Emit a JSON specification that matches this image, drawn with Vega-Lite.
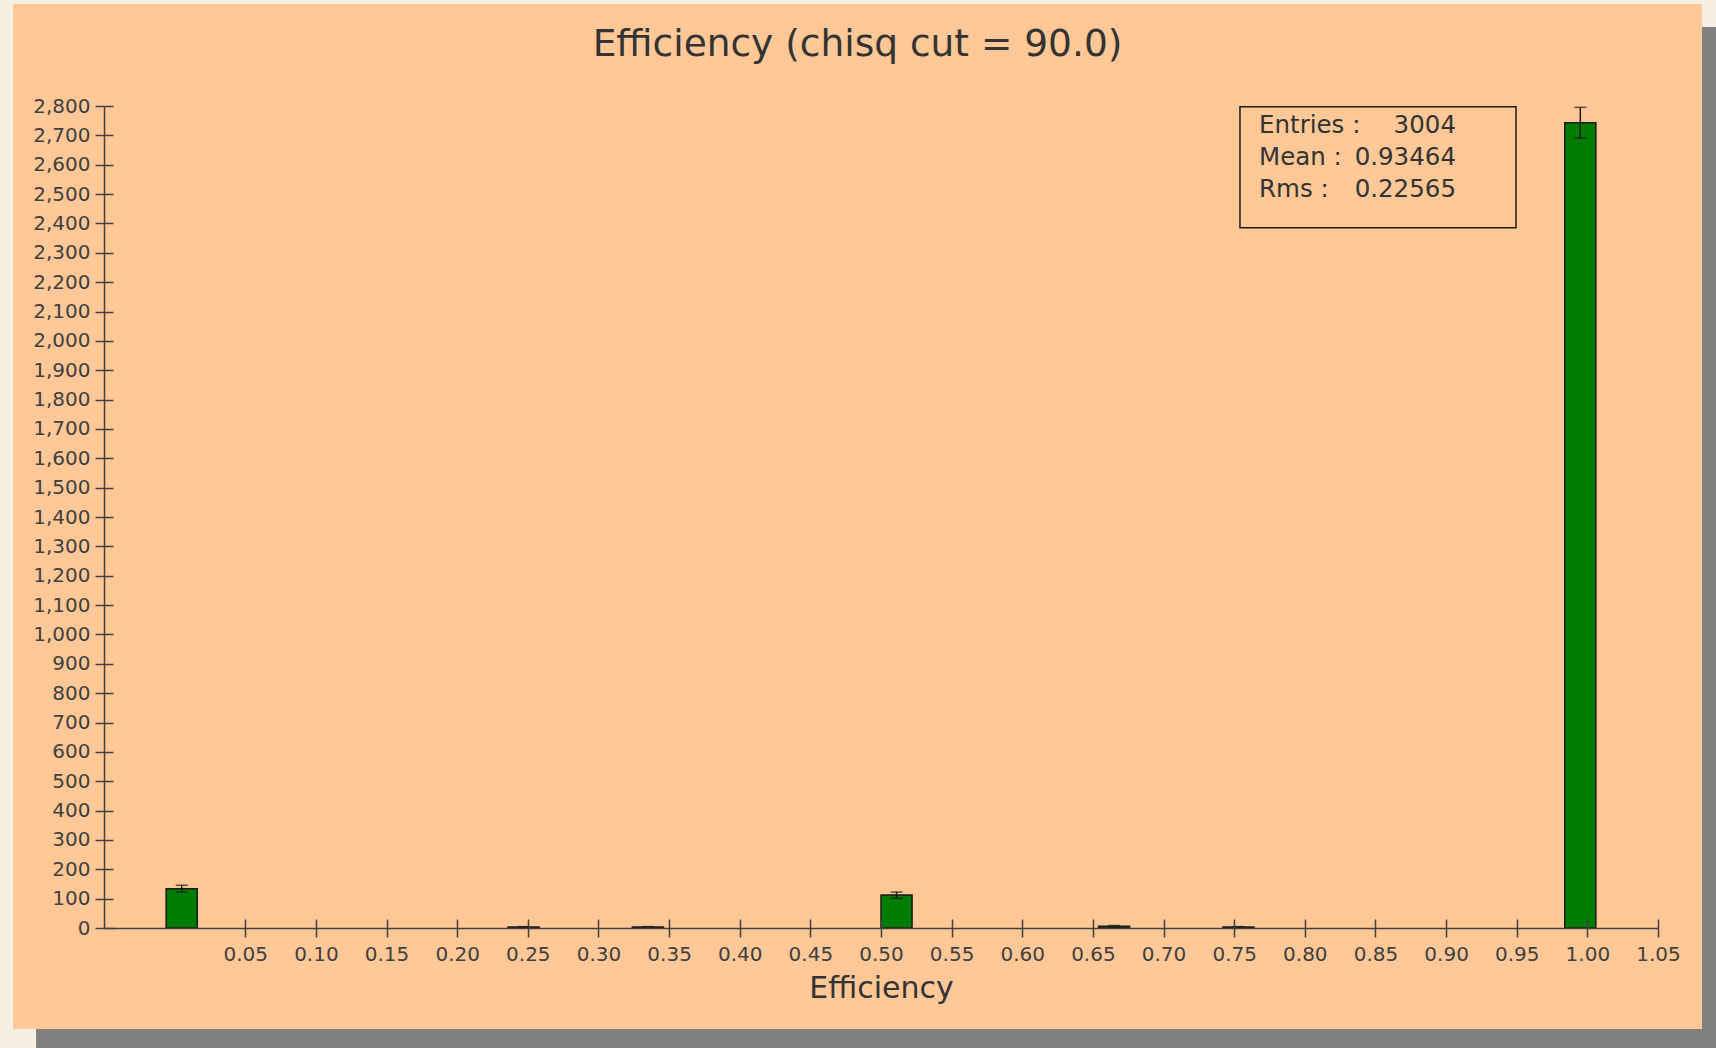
{
  "$schema": "https://vega.github.io/schema/vega-lite/v6.json",
  "width": 1554,
  "height": 822,
  "autosize": "none",
  "padding": {"left": 104, "top": 106, "right": 58, "bottom": 120},
  "background": "#F5F0E1",
  "config": {"view": {"stroke": null}, "font": "DejaVu Sans"},
  "title": {"text": "Efficiency (chisq cut = 90.0)", "fontSize": 37.5, "fontWeight": "normal", "color": "#333333", "anchor": "middle", "dx": -23.5, "offset": 39, "dy": 128, "baseline": "alphabetic", "font": "DejaVu Sans", "zindex": 2},
  "datasets": {
    "bins": [
      {"x0": -0.006, "x1": 0.016, "xc": 0.005, "count": 134, "lo": 122.4, "hi": 145.6},
      {"x0": 0.236, "x1": 0.258, "xc": 0.247, "count": 3, "lo": 1.27, "hi": 4.73},
      {"x0": 0.324, "x1": 0.346, "xc": 0.335, "count": 3, "lo": 1.27, "hi": 4.73},
      {"x0": 0.5, "x1": 0.522, "xc": 0.511, "count": 112, "lo": 101.4, "hi": 122.6},
      {"x0": 0.654, "x1": 0.676, "xc": 0.665, "count": 6, "lo": 3.55, "hi": 8.45},
      {"x0": 0.742, "x1": 0.764, "xc": 0.753, "count": 3, "lo": 1.27, "hi": 4.73},
      {"x0": 0.984, "x1": 1.006, "xc": 0.995, "count": 2743, "lo": 2690.6, "hi": 2795.4}
    ],
    "stats": [
      {"labels": ["Entries :", "Mean :", "Rms :"], "values": ["3004", "0.93464", "0.22565"]}
    ]
  },
  "layer": [
    {
      "data": {"name": "stats"},
      "mark": {"type": "rect", "fill": "#808080", "clip": false},
      "encoding": {
        "x": {"datum": 1.0811, "type": "quantitative", "axis": null},
        "x2": {"datum": 1.1},
        "y": {"datum": 3069, "type": "quantitative", "axis": null},
        "y2": {"datum": -450}
      }
    },
    {
      "data": {"name": "stats"},
      "mark": {"type": "rect", "fill": "#808080", "clip": false},
      "encoding": {
        "x": {"datum": -0.0981, "type": "quantitative", "axis": null},
        "x2": {"datum": 1.1},
        "y": {"datum": -344, "type": "quantitative", "axis": null},
        "y2": {"datum": -450}
      }
    },
    {
      "data": {"name": "stats"},
      "mark": {"type": "rect", "fill": "#FFC896", "clip": false},
      "encoding": {
        "x": {"datum": -0.1144, "type": "quantitative", "axis": null},
        "x2": {"datum": 1.0811},
        "y": {"datum": 3147.4, "type": "quantitative", "axis": null},
        "y2": {"datum": -344}
      }
    },
    {
      "data": {"name": "bins"},
      "mark": {"type": "bar", "fill": "#007C00", "stroke": "#1a1a1a", "strokeWidth": 1.5},
      "encoding": {
        "x": {"field": "x0", "type": "quantitative",
          "scale": {"domain": [-0.05, 1.05], "nice": false, "zero": false, "padding": 0},
          "axis": {"orient": "bottom", "zindex": 1, "values": [0.05, 0.1, 0.15, 0.2, 0.25, 0.3, 0.35, 0.4, 0.45, 0.5, 0.55, 0.6, 0.65, 0.7, 0.75, 0.8, 0.85, 0.9, 0.95, 1.0, 1.05],
            "format": ".2f", "grid": false, "domain": true, "domainColor": "#404040", "domainWidth": 1.5,
            "tickColor": "#404040", "tickWidth": 1.5, "tickSize": 9,
            "labelFontSize": 20, "labelColor": "#404040", "labelPadding": 7, "labelFont": "DejaVu Sans",
            "labelFlush": false, "labelOverlap": false,
            "title": "Efficiency", "titleFontSize": 30, "titleFontWeight": "normal", "titleColor": "#333333", "titlePadding": 9, "titleFont": "DejaVu Sans"}},
        "x2": {"field": "x1"},
        "y": {"field": "count", "type": "quantitative",
          "scale": {"domain": [0, 2800], "nice": false, "padding": 0},
          "axis": {"orient": "left", "zindex": 1, "values": [0, 100, 200, 300, 400, 500, 600, 700, 800, 900, 1000, 1100, 1200, 1300, 1400, 1500, 1600, 1700, 1800, 1900, 2000, 2100, 2200, 2300, 2400, 2500, 2600, 2700, 2800],
            "format": ",d", "grid": false, "domain": true, "domainColor": "#404040", "domainWidth": 1.5,
            "tickColor": "#404040", "tickWidth": 1.5, "tickSize": 9,
            "labelFontSize": 20, "labelColor": "#404040", "labelPadding": 5, "labelFont": "DejaVu Sans",
            "labelFlush": false, "labelOverlap": false, "title": null}},
        "y2": {"datum": 0}
      }
    },
    {
      "data": {"name": "bins"},
      "mark": {"type": "rule", "color": "#1a1a1a", "strokeWidth": 1.5},
      "encoding": {
        "x": {"field": "xc", "type": "quantitative",
          "axis": {"orient": "bottom", "zindex": 1, "values": [0.05, 0.1, 0.15, 0.2, 0.25, 0.3, 0.35, 0.4, 0.45, 0.5, 0.55, 0.6, 0.65, 0.7, 0.75, 0.8, 0.85, 0.9, 0.95, 1.0, 1.05],
            "grid": false, "domain": false, "labels": false, "tickColor": "#404040", "tickWidth": 1.5, "tickSize": -9, "title": null}},
        "y": {"field": "lo", "type": "quantitative",
          "axis": {"orient": "left", "zindex": 1, "values": [0, 100, 200, 300, 400, 500, 600, 700, 800, 900, 1000, 1100, 1200, 1300, 1400, 1500, 1600, 1700, 1800, 1900, 2000, 2100, 2200, 2300, 2400, 2500, 2600, 2700, 2800],
            "grid": false, "domain": false, "labels": false, "tickColor": "#404040", "tickWidth": 1.5, "tickSize": -9, "title": null}},
        "y2": {"field": "hi"}
      }
    },
    {
      "data": {"name": "bins"},
      "mark": {"type": "tick", "orient": "horizontal", "size": 12, "thickness": 1.5, "color": "#1a1a1a"},
      "encoding": {
        "x": {"field": "xc", "type": "quantitative", "axis": null},
        "y": {"field": "hi", "type": "quantitative", "axis": null}
      }
    },
    {
      "data": {"name": "bins"},
      "mark": {"type": "tick", "orient": "horizontal", "size": 12, "thickness": 1.5, "color": "#1a1a1a"},
      "encoding": {
        "x": {"field": "xc", "type": "quantitative", "axis": null},
        "y": {"field": "lo", "type": "quantitative", "axis": null}
      }
    },
    {
      "data": {"name": "stats"},
      "mark": {"type": "rect", "fill": "#FFC896", "fillOpacity": 0, "stroke": "#1a1a1a", "strokeWidth": 1.5},
      "encoding": {
        "x": {"datum": 0.7541, "type": "quantitative", "axis": null},
        "x2": {"datum": 0.9495},
        "y": {"datum": 2797.6, "type": "quantitative", "axis": null},
        "y2": {"datum": 2385.4}
      }
    },
    {
      "data": {"name": "stats"},
      "mark": {"type": "text", "align": "left", "baseline": "alphabetic", "fontSize": 24.5, "lineHeight": 32, "color": "#333333", "font": "DejaVu Sans"},
      "encoding": {
        "x": {"datum": 0.7676, "type": "quantitative", "axis": null},
        "y": {"datum": 2707, "type": "quantitative", "axis": null},
        "text": {"field": "labels"}
      }
    },
    {
      "data": {"name": "stats"},
      "mark": {"type": "text", "align": "right", "baseline": "alphabetic", "fontSize": 24.5, "lineHeight": 32, "color": "#333333", "font": "DejaVu Sans"},
      "encoding": {
        "x": {"datum": 0.907, "type": "quantitative", "axis": null},
        "y": {"datum": 2707, "type": "quantitative", "axis": null},
        "text": {"field": "values"}
      }
    }
  ],
  "resolve": {"axis": {"x": "independent", "y": "independent"}}
}
